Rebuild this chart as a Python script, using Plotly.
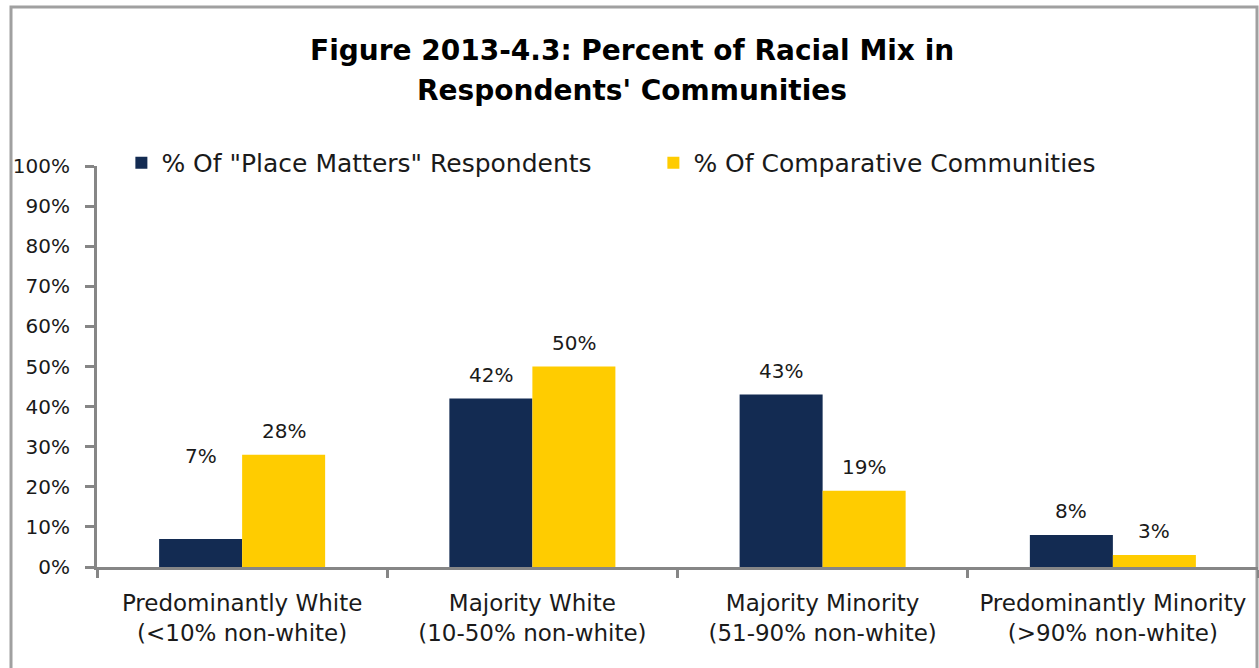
import plotly.graph_objects as go

categories = ["Predominantly White<br>(<10% non-white)",
              "Majority White<br>(10-50% non-white)",
              "Majority Minority<br>(51-90% non-white)",
              "Predominantly Minority<br>(>90% non-white)"]
series_names = ['% Of "Place Matters" Respondents', "% Of Comparative Communities"]
place_matters = [0.07, 0.42, 0.43, 0.08]
comparative = [0.28, 0.50, 0.19, 0.03]
y_ticks = [0, 0.1, 0.2, 0.3, 0.4, 0.5, 0.6, 0.7, 0.8, 0.9, 1.0]
y_tick_labels = ["0%", "10%", "20%", "30%", "40%", "50%", "60%", "70%", "80%", "90%", "100%"]
title_lines = ["Figure 2013-4.3: Percent of Racial Mix in", "Respondents' Communities"]

# style
NAVY = "#132B52"
GOLD = "#FFCC00"
AXIS = "#868686"
TXT = "#1a1a1a"
FONT = "DejaVu Sans"
label_extra = [[59, 0, 0, 0], [0, 0, 0, 0]]  # extra pixel offsets for data labels

fig = go.Figure()
for name, vals, col in [(series_names[0], place_matters, NAVY), (series_names[1], comparative, GOLD)]:
    fig.add_trace(go.Bar(x=categories, y=vals, name=name, marker=dict(color=col, line=dict(width=0))))

annotations = []
bar_half = 41.5
for si, vals in enumerate([place_matters, comparative]):
    for ci, v in enumerate(vals):
        annotations.append(dict(
            x=categories[ci], y=v, xref="x", yref="y",
            text=f"{round(v*100)}%", showarrow=False,
            xshift=(-bar_half if si == 0 else bar_half),
            yanchor="bottom", yshift=10 + label_extra[si][ci],
            font=dict(family=FONT, size=20, color=TXT)))

for i, (line, ypx) in enumerate(zip(title_lines, [50, 90])):
    annotations.append(dict(
        x=0.5, xref="paper", y=(567 - ypx) / 401, yref="paper",
        text=f"<b>{line}</b>", showarrow=False, xanchor="center", yanchor="middle",
        xshift=(629.5 - (97 + 1161 / 2)) + 2,
        font=dict(family=FONT, size=28, color="#000000")))

fig.update_layout(
    width=1259, height=668,
    margin=dict(l=97, r=1, t=166, b=101),
    paper_bgcolor="white", plot_bgcolor="white",
    barmode="group", bargap=0.428, bargroupgap=0,
    showlegend=True,
    legend=dict(orientation="h", x=0.021, xanchor="left", y=1.0075, yanchor="middle",
                font=dict(family=FONT, size=25, color=TXT),
                entrywidth=487, entrywidthmode="pixels",
                bgcolor="rgba(0,0,0,0)", itemclick=False),
    annotations=annotations,
    font=dict(family=FONT, color=TXT),
    shapes=[dict(type="rect", xref="paper", yref="paper",
                 x0=(11 - 97) / 1161, x1=(1257 - 97) / 1161,
                 y0=-0.35, y1=(567 - 7) / 401,
                 line=dict(color="#A0A0A0", width=3), fillcolor="rgba(0,0,0,0)", layer="below")],
)
fig.update_yaxes(range=[0, 1], tickvals=y_ticks, ticktext=y_tick_labels,
                 showgrid=False, zeroline=False,
                 showline=True, linecolor=AXIS, linewidth=3,
                 ticks="outside", ticklen=9, tickwidth=3, tickcolor=AXIS,
                 ticklabelstandoff=11,
                 tickfont=dict(family=FONT, size=20, color=TXT), fixedrange=True)
fig.update_xaxes(showgrid=False, zeroline=False,
                 showline=True, linecolor=AXIS, linewidth=3,
                 ticks="outside", tickson="boundaries", ticklen=8, tickwidth=3, tickcolor=AXIS,
                 ticklabelstandoff=13,
                 tickfont=dict(family=FONT, size=23, color=TXT), fixedrange=True)

fig.write_html("out.html", config={"displayModeBar": False},
               post_script="document.body.style.margin='0';document.body.style.overflow='hidden';")
